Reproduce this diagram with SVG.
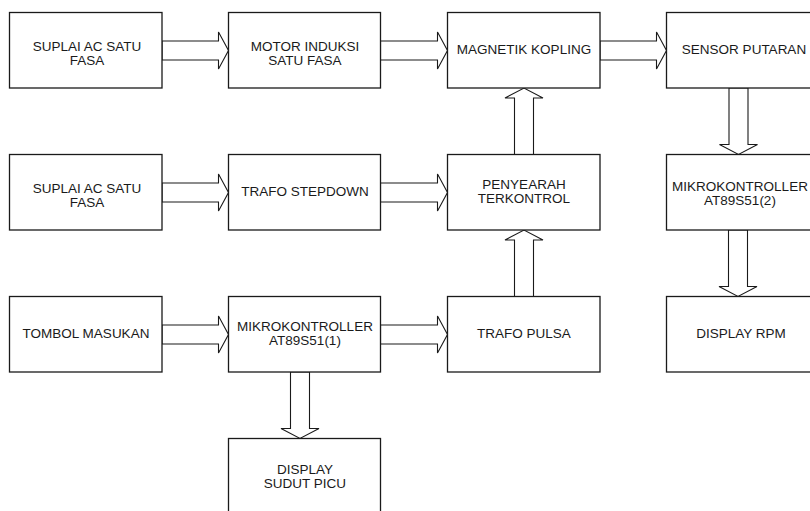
<svg xmlns="http://www.w3.org/2000/svg" width="810" height="511" viewBox="0 0 810 511">
<style>
.box{fill:#ffffff;stroke:#1a1a1a;stroke-width:1.3}
.arr{fill:#ffffff;stroke:#1a1a1a;stroke-width:1.1;stroke-linejoin:miter}
text{font-family:"Liberation Sans",Arial,sans-serif;font-size:13.5px;fill:#1a1a1a;text-anchor:middle}
</style>
<rect width="810" height="511" fill="#ffffff"/>
<g id="connectors">
<polygon class="arr" points="162,41 218.5,41 218.5,32 228.5,50.5 218.5,69 218.5,60 162,60"/>
<polygon class="arr" points="380.5,41 437.5,41 437.5,32 447.5,50.5 437.5,69 437.5,60 380.5,60"/>
<polygon class="arr" points="600,41 656.5,41 656.5,32 666.5,50.5 656.5,69 656.5,60 600,60"/>
<polygon class="arr" points="162,183 218.5,183 218.5,174 228.5,192.5 218.5,211 218.5,202 162,202"/>
<polygon class="arr" points="380.5,183 437.5,183 437.5,174 447.5,192.5 437.5,211 437.5,202 380.5,202"/>
<polygon class="arr" points="162,325 218.5,325 218.5,316 228.5,334.5 218.5,353 218.5,344 162,344"/>
<polygon class="arr" points="380.5,325 437.5,325 437.5,316 447.5,334.5 437.5,353 437.5,344 380.5,344"/>
<polygon class="arr" points="514.5,154.5 514.5,98 505,98 524,88 543,98 533.5,98 533.5,154.5"/>
<polygon class="arr" points="514.5,296.5 514.5,240 505,240 524,230 543,240 533.5,240 533.5,296.5"/>
<polygon class="arr" points="729,88 729,144.5 719.5,144.5 738.5,154.5 757.5,144.5 748,144.5 748,88"/>
<polygon class="arr" points="728.5,230 728.5,286.5 719,286.5 738,296.5 757,286.5 747.5,286.5 747.5,230"/>
<polygon class="arr" points="290.5,372 290.5,428.5 281,428.5 300,438.5 319,428.5 309.5,428.5 309.5,372"/>
</g>
<g id="suplai1"><rect class="box" x="9.5" y="12.5" width="152.5" height="75.5"/><text x="87" y="51">SUPLAI AC SATU</text><text x="87" y="65">FASA</text></g>
<g id="motor"><rect class="box" x="228.5" y="12.5" width="152" height="75.5"/><text x="305" y="51">MOTOR INDUKSI</text><text x="305" y="65">SATU FASA</text></g>
<g id="magnetik"><rect class="box" x="447.5" y="12.5" width="152.5" height="75.5"/><text x="524" y="53.5">MAGNETIK KOPLING</text></g>
<g id="sensor"><rect class="box" x="666.5" y="12.5" width="152" height="75.5"/><text x="744" y="53.5">SENSOR PUTARAN</text></g>
<g id="suplai2"><rect class="box" x="9.5" y="154.5" width="152.5" height="75.5"/><text x="87" y="193">SUPLAI AC SATU</text><text x="87" y="207">FASA</text></g>
<g id="trafostepdown"><rect class="box" x="228.5" y="154.5" width="152" height="75.5"/><text x="305" y="196">TRAFO STEPDOWN</text></g>
<g id="penyearah"><rect class="box" x="447.5" y="154.5" width="152.5" height="75.5"/><text x="524" y="189">PENYEARAH</text><text x="524" y="203">TERKONTROL</text></g>
<g id="mikro2"><rect class="box" x="666.5" y="154.5" width="152" height="75.5"/><text x="740" y="191">MIKROKONTROLLER</text><text x="740" y="205">AT89S51(2)</text></g>
<g id="tombol"><rect class="box" x="9.5" y="296.5" width="152.5" height="75.5"/><text x="86" y="338">TOMBOL MASUKAN</text></g>
<g id="mikro1"><rect class="box" x="228.5" y="296.5" width="152" height="75.5"/><text x="305" y="331">MIKROKONTROLLER</text><text x="305" y="345">AT89S51(1)</text></g>
<g id="trafopulsa"><rect class="box" x="447.5" y="296.5" width="152.5" height="75.5"/><text x="524" y="338">TRAFO PULSA</text></g>
<g id="displayrpm"><rect class="box" x="666.5" y="296.5" width="152" height="75.5"/><text x="741" y="338">DISPLAY RPM</text></g>
<g id="displaysudut"><rect class="box" x="228.5" y="438.5" width="152" height="75.5"/><text x="305" y="474">DISPLAY</text><text x="305" y="488">SUDUT PICU</text></g>
</svg>
